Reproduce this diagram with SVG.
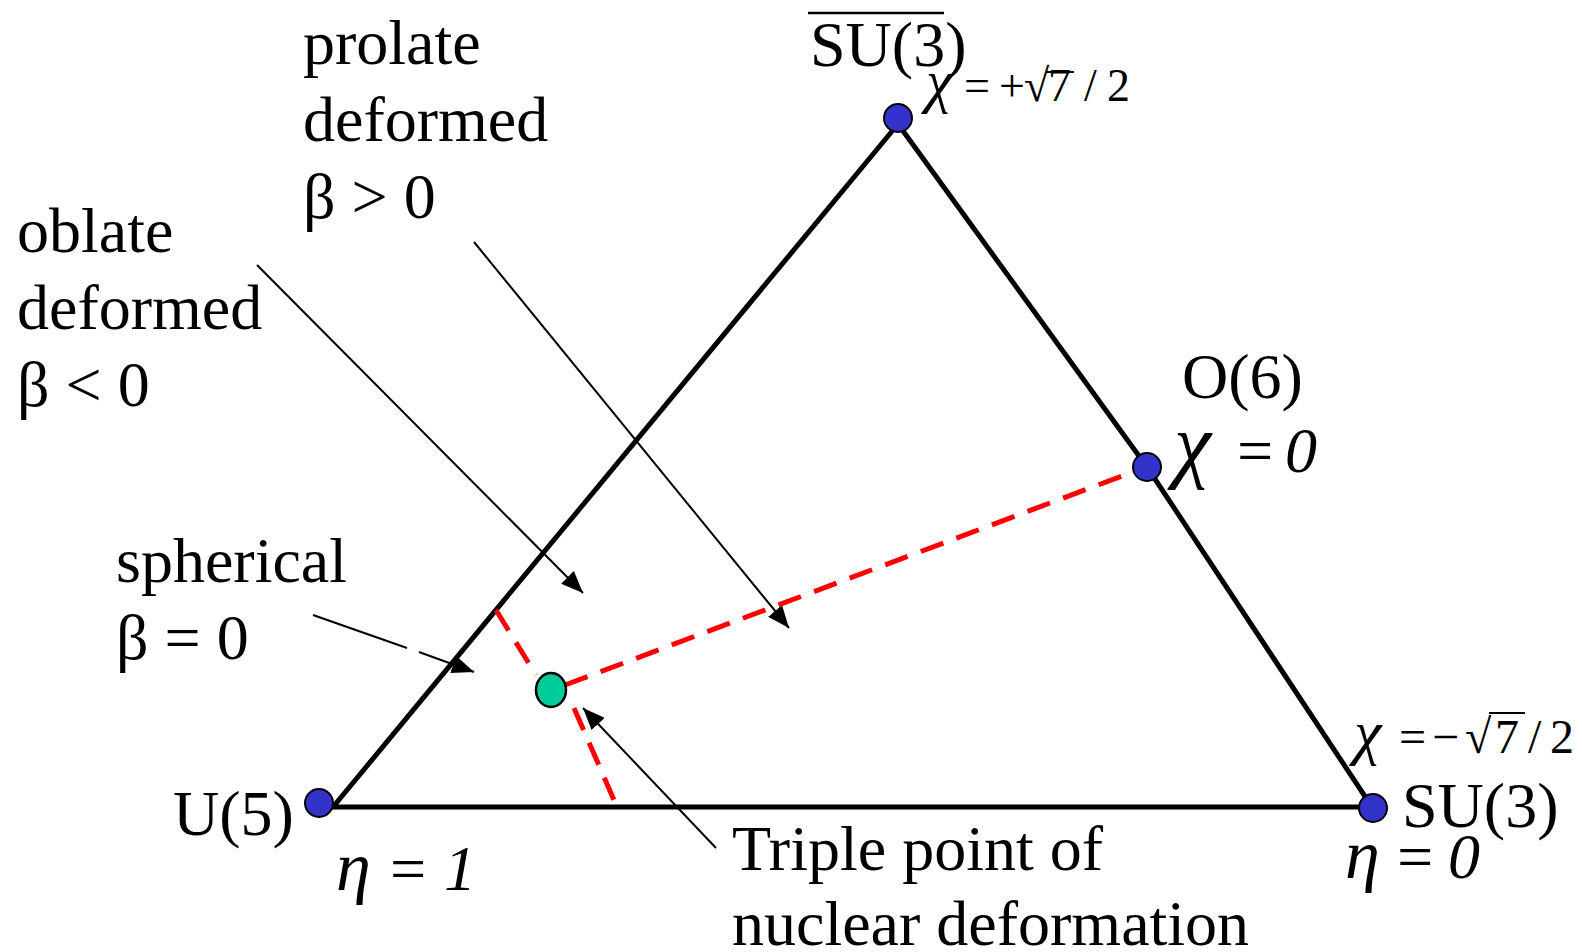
<svg xmlns="http://www.w3.org/2000/svg" width="1582" height="952" viewBox="0 0 1582 952">
<defs>
<style>
.t{font-family:"Liberation Serif","Times New Roman",serif;font-size:64px;fill:#000}
.i{font-style:italic}
.s{font-family:"Liberation Serif","Times New Roman",serif;fill:#000}
.c{font-family:"Liberation Serif","Times New Roman",serif;font-style:italic}
.edge{stroke:#000;stroke-width:5;fill:none;stroke-linecap:round;stroke-linejoin:round}
.red{stroke:#ff0000;stroke-width:5;fill:none;stroke-dasharray:24 14}
.arr{stroke:#000;stroke-width:2;fill:none;marker-end:url(#ah)}
.dot{fill:#3333cc;stroke:#000;stroke-width:2}
</style>
<marker id="ah" markerUnits="userSpaceOnUse" markerWidth="24" markerHeight="18" refX="22" refY="9" orient="auto">
<path d="M0,0 L22,9 L0,18 Z" fill="#000"/>
</marker>
</defs>
<rect width="1582" height="952" fill="#fff"/>

<g id="triangle">
<path class="edge" d="M898,124 L333,807 L1372,807 L1147,467 Z"/>
</g>

<g id="connectors">
<path class="red" d="M565,685 L1138,470"/>
<path class="red" d="M496,610 L536,675"/>
<path class="red" d="M574,708 L617,807"/>
<path class="arr" d="M257,265 L583,593"/>
<path class="arr" d="M474,242 L789,628"/>
<path class="arr" d="M313,615 L407,648 M419,652 L474,672"/>
<path class="arr" d="M716,848 L583,708"/>
</g>

<g id="node-su3bar">
<circle class="dot" cx="898" cy="118" r="14"/>
<text class="t" x="810" y="66">SU(3)</text>
<line x1="808" y1="13" x2="944" y2="13" stroke="#000" stroke-width="2.5"/>
<text class="s" font-size="46" y="101"><tspan class="c" font-size="60" x="926">χ</tspan><tspan x="964">=</tspan><tspan x="999">+</tspan><tspan x="1024">√</tspan><tspan x="1048">7</tspan><tspan x="1084">/</tspan><tspan x="1107">2</tspan></text>
<line x1="1046" y1="72" x2="1074" y2="72" stroke="#000" stroke-width="2"/>
</g>

<g id="node-o6">
<circle class="dot" cx="1147" cy="467" r="14"/>
<text class="t" x="1182" y="398">O(6)</text>
<text class="t i" y="472"><tspan font-size="84" x="1174">χ</tspan><tspan x="1233">=</tspan><tspan x="1285">0</tspan></text>
</g>

<g id="node-su3">
<circle class="dot" cx="1373" cy="808" r="14"/>
<text class="t" x="1402" y="827">SU(3)</text>
<text class="s" font-size="48" y="753"><tspan class="c" font-size="62" x="1354">χ</tspan><tspan x="1399">=</tspan><tspan x="1432">−</tspan><tspan x="1465">√</tspan><tspan x="1495">7</tspan><tspan x="1528">/</tspan><tspan x="1550">2</tspan></text>
<line x1="1489" y1="713" x2="1525" y2="713" stroke="#000" stroke-width="2"/>
<text class="t i" y="878"><tspan font-size="70" x="1345">η</tspan><tspan x="1393">=</tspan><tspan x="1448">0</tspan></text>
</g>

<g id="node-u5">
<circle class="dot" cx="319" cy="803" r="14"/>
<text class="t" x="173" y="835">U(5)</text>
<text class="t i" y="890"><tspan font-size="70" x="336">η</tspan><tspan x="386">=</tspan><tspan x="444">1</tspan></text>
</g>

<g id="node-triple">
<ellipse cx="551" cy="690" rx="15" ry="17" fill="#00cc99" stroke="#000" stroke-width="2.5"/>
</g>

<g id="label-prolate">
<text class="t" x="303" y="64">prolate</text>
<text class="t" x="303" y="141">deformed</text>
<text class="t" x="303" y="218">β &gt; 0</text>
</g>

<g id="label-oblate">
<text class="t" x="17" y="252">oblate</text>
<text class="t" x="17" y="329">deformed</text>
<text class="t" x="17" y="406">β &lt; 0</text>
</g>

<g id="label-spherical">
<text class="t" x="116" y="582">spherical</text>
<text class="t" x="116" y="659">β = 0</text>
</g>

<g id="label-triple">
<text class="t" x="732" y="870">Triple point of</text>
<text class="t" x="732" y="945">nuclear deformation</text>
</g>
</svg>
